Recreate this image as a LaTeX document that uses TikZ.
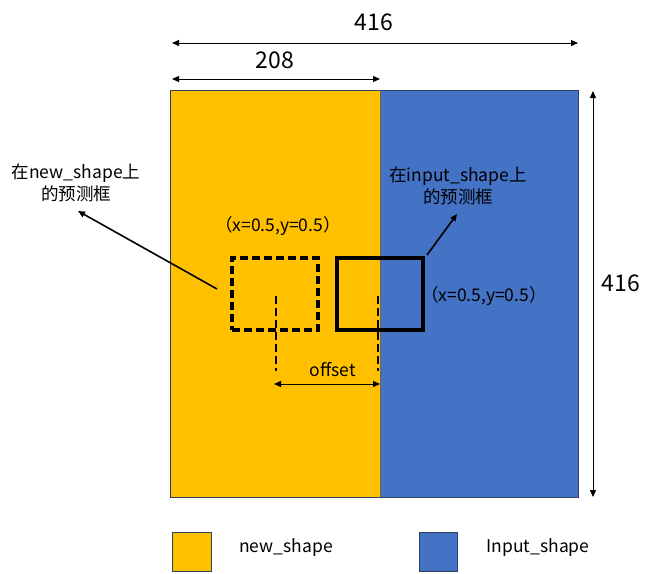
\documentclass[tikz,border=0pt]{standalone}
\usepackage{fontspec}
\setmainfont{Noto Sans CJK SC}
\usetikzlibrary{arrows.meta}
\definecolor{ylw}{HTML}{FFC000}
\definecolor{blu}{HTML}{4472C4}
\definecolor{edge}{HTML}{2F3F5F}
\begin{document}
\begin{tikzpicture}[x=1pt,y=-1pt,
  tip/.style={-{Triangle[length=7pt,width=6pt]}},
  dtip/.style={{Triangle[length=7pt,width=6pt]}-{Triangle[length=7pt,width=6pt]}},
  big/.style={font=\fontsize{23}{26}\selectfont},
  mid/.style={font=\fontsize{17.5}{22}\selectfont, align=center},
  box/.style={line width=3.2pt}]
\useasboundingbox (0,0) rectangle (656,573);
% panels
\fill[ylw] (170,90) rectangle (380,497);
\fill[blu] (380,90) rectangle (578,497);
\draw[edge, line width=0.8pt] (170,90) rectangle (578,497);
\draw[edge!70!ylw, line width=0.8pt] (380,90) -- (380,497);
% dimension arrows
\coordinate (t1) at (172,43); \coordinate (t2) at (578,43);
\draw[dtip, line width=1pt] (t1) -- (t2);
\node[big] (l416) at (374,22) {416};
\coordinate (h1) at (172,79); \coordinate (h2) at (380,79);
\draw[dtip, line width=1pt] (h1) -- (h2);
\node[big] (l208) at (275,60) {208};
\coordinate (v1) at (593,91); \coordinate (v2) at (593,497);
\draw[dtip, line width=1pt] (v1) -- (v2);
\node[big] (r416) at (621,283) {416};
% boxes
\node[box, dashed, dash pattern=on 8pt off 4pt, draw, minimum width=86pt, minimum height=72pt, inner sep=0pt] (nb) at (275,294) {};
\node[box, draw, minimum width=86pt, minimum height=72pt, inner sep=0pt] (ib) at (380,294) {};
% center lines
\coordinate (c1a) at (276,296); \coordinate (c1b) at (276,371);
\coordinate (c2a) at (378,296); \coordinate (c2b) at (378,371);
\draw[line width=2.2pt, dash pattern=on 8pt off 4pt] (c1a) -- (c1b);
\draw[line width=2.2pt, dash pattern=on 8pt off 4pt] (c2a) -- (c2b);
\coordinate (o1) at (274,384); \coordinate (o2) at (380,384);
\draw[dtip, line width=1pt] (o1) -- (o2);
\node[mid] (off) at (333,370) {offset};
% coordinate labels
\node[mid] (p1) at (278,226) {（x=0.5,y=0.5）};
\node[mid] (p2) at (484,296) {（x=0.5,y=0.5）};
% callouts
\node[mid] (n1) at (76,183) {在new\_shape上\\的预测框};
\node[mid] (n2) at (458,186) {在input\_shape上\\的预测框};
\coordinate (a1) at (217,289); \coordinate (a2) at (78,211);
\draw[tip, line width=1.6pt] (a1) -- (a2);
\coordinate (b1) at (427,255); \coordinate (b2) at (457,214);
\draw[tip, line width=1.6pt] (b1) -- (b2);
% legend
\node[draw=edge, fill=ylw, line width=0.8pt, minimum width=39pt, minimum height=39pt, inner sep=0pt] (ly) at (191.5,552) {};
\node[mid] (lyt) at (286,548) {new\_shape};
\node[draw=edge, fill=blu, line width=0.8pt, minimum width=38pt, minimum height=39pt, inner sep=0pt] (lb) at (438,552) {};
\node[mid] (lbt) at (538,548) {Input\_shape};
\end{tikzpicture}
\end{document}
